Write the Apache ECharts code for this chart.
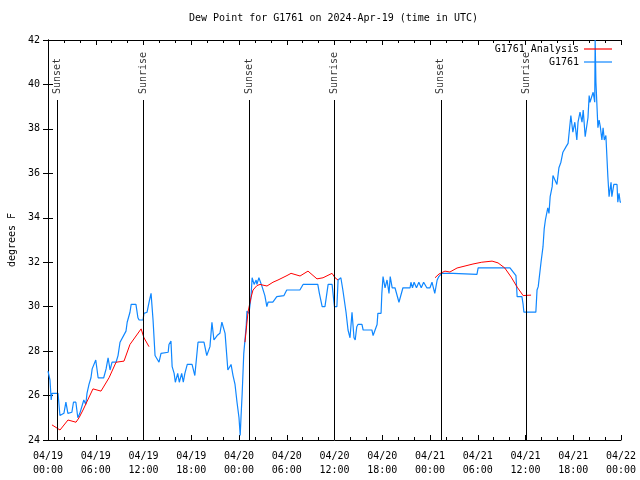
<!DOCTYPE html>
<html>
<head>
<meta charset="utf-8">
<script src="https://cdn.jsdelivr.net/npm/echarts@6/dist/echarts.min.js"></script>
<style>html,body{margin:0;padding:0;background:#fff}#c{width:640px;height:480px}</style>
</head>
<body>
<div id="c"></div>
<script>
// ---- data ----
const titleText = 'Dew Point for G1761 on 2024-Apr-19 (time in UTC)';
const xTickLabels = ['04/19\n00:00','04/19\n06:00','04/19\n12:00','04/19\n18:00','04/20\n00:00','04/20\n06:00','04/20\n12:00','04/20\n18:00','04/21\n00:00','04/21\n06:00','04/21\n12:00','04/21\n18:00','04/22\n00:00'];
// hours since 04/19 00:00 UTC
const blueHours = [0,0.25,0.4,0.5,1.26,1.5,2.0,2.25,2.5,3.0,3.2,3.5,3.75,4.0,4.5,4.75,4.9,5.15,5.4,5.55,6.0,6.3,7.0,7.3,7.55,7.8,8.05,8.55,8.8,9.05,9.3,9.8,9.95,10.3,10.45,11.05,11.3,11.45,11.95,12.05,12.45,12.7,12.95,13.2,13.45,13.7,13.95,14.2,14.45,15.1,15.2,15.45,15.6,15.85,16.0,16.3,16.5,16.8,17.0,17.2,17.5,18.1,18.45,18.85,19.6,19.95,20.35,20.6,20.85,21.25,21.6,21.85,22.25,22.6,23.0,23.25,23.5,23.75,24.0,24.15,24.25,24.4,24.6,24.9,25.0,25.25,25.5,25.65,25.9,26.15,26.25,26.5,26.9,27.25,27.5,27.65,28.25,28.75,29.0,29.65,30.0,31.65,32.05,33.9,34.1,34.45,34.8,35.2,35.7,35.9,36.0,36.3,36.45,36.8,37.05,37.45,37.7,37.8,37.95,38.2,38.45,38.6,38.8,38.95,39.45,39.6,40.7,40.85,41.1,41.35,41.45,41.85,41.95,42.1,42.35,42.6,42.85,43.0,43.25,43.6,43.75,44.1,44.6,45.5,45.6,45.8,46.0,46.3,46.6,46.9,47.2,47.6,48.0,48.25,48.4,48.6,48.9,49.1,49.5,50.9,51.15,53.9,54.05,58.05,58.3,58.8,58.95,59.55,59.7,59.8,61.3,61.45,61.6,61.95,62.2,62.35,62.5,62.8,62.95,63.1,63.35,63.45,63.7,63.95,64.2,64.45,64.7,65.1,65.35,65.55,65.7,65.95,66.2,66.45,66.6,66.85,67.1,67.25,67.5,67.85,68.0,68.1,68.5,68.7,68.75,68.85,69.1,69.25,69.4,69.6,69.75,69.9,70.1,70.35,70.5,70.75,70.85,71.1,71.5,71.6,71.75,71.9,72.0];
const blueDew = [27.1,26.7,25.8,26.1,26.1,25.1,25.2,25.7,25.2,25.25,25.7,25.7,25.0,25.2,25.8,25.6,26.1,26.5,26.8,27.2,27.6,26.8,26.8,27.2,27.7,27.15,27.5,27.5,27.8,28.4,28.4,28.9,29.3,29.75,30.1,30.1,29.5,29.4,29.4,29.7,29.75,30.2,30.6,29.4,27.8,27.8,27.5,27.9,27.95,27.95,28.3,28.45,27.3,27.0,26.6,27.0,26.6,27.0,26.6,27.0,27.4,27.4,26.9,28.4,28.4,27.8,28.2,29.3,28.5,28.7,28.8,29.3,28.8,27.15,27.4,26.9,26.5,25.7,25.0,24.2,25.0,26.1,27.9,29.1,29.8,29.7,30.4,31.3,31.0,31.2,31.0,31.3,30.9,30.5,30.0,30.2,30.2,30.45,30.5,30.5,30.75,30.75,31.0,31.0,30.6,30.0,30.0,31.0,31.0,30.3,30.0,30.0,31.2,31.3,30.75,29.75,28.95,29.0,28.6,29.75,28.6,28.5,29.1,29.2,29.2,28.95,28.95,28.7,28.7,29.2,29.7,29.7,30.6,31.35,30.85,31.2,30.6,31.35,30.85,30.85,30.85,30.2,30.85,30.85,31.1,30.85,31.1,30.85,31.1,30.85,31.1,30.85,30.85,31.1,31.1,30.6,31.2,31.35,31.5,31.5,31.45,31.45,31.75,31.75,31.7,31.4,30.45,30.45,30.1,29.75,29.75,30.75,30.9,32.0,32.7,33.5,33.9,34.45,34.2,34.95,35.4,35.9,35.95,35.5,36.25,36.5,36.95,37.2,37.35,37.4,38.6,37.85,38.3,37.5,38.3,38.75,38.3,38.85,37.65,38.5,39.5,39.2,39.65,39.2,42.0,40.1,38.05,38.4,38.1,37.5,38.05,37.5,37.7,35.85,34.95,35.6,34.95,35.5,35.5,34.7,35.1,34.7,34.7];
// analysis series ('-' = gap)
const redHours = [0.5,1.51,2.51,3.52,3.65,3.9,4.4,5.65,6.66,7.67,8.55,9.55,10.3,11.7,12.06,12.69,18.5,24.75,25.13,25.5,25.76,26.26,26.64,27.52,28.27,28.9,30.03,30.54,31.67,32.67,33.8,34.56,35.69,36.07,36.44,42.0,48.63,49.13,49.88,50.5,51.4,52.4,53.4,54.5,55.8,56.55,57.4,58.2,58.95,59.7,60.7];
const redDew = [24.68,24.45,24.9,24.8,24.8,25.0,25.35,26.3,26.2,26.8,27.5,27.55,28.3,29.0,28.6,28.2,'-',28.4,29.75,30.4,30.75,30.95,31.0,30.93,31.1,31.2,31.4,31.5,31.38,31.6,31.25,31.3,31.5,31.3,31.2,'-',31.3,31.47,31.6,31.56,31.74,31.83,31.92,32.0,32.05,31.97,31.74,31.33,30.88,30.5,30.52];
const eventHours = [1.22,11.95,25.28,35.97,49.37,60.07];
const eventNames = ['Sunset','Sunrise','Sunset','Sunrise','Sunset','Sunrise'];

const FONT = 'DejaVu Sans Mono';
const FS = 10;
const BLUE = '#0f87ff';
const RED = '#ff0000';
const LINE_TOP = 39.3;

const chart = echarts.init(document.getElementById('c'), null, {renderer: 'canvas'});
const axisBase = {
  axisLine: {show: true, lineStyle: {color: '#000', width: 1}},
  splitLine: {show: false},
};
const option = {
  animation: false,
  backgroundColor: '#fff',
  textStyle: {fontFamily: FONT},
  title: {
    text: titleText, left: 189, top: 13, padding: 0,
    textStyle: {fontFamily: FONT, fontSize: FS, fontWeight: 'normal', color: '#000'}
  },
  legend: [
    {data: ['G1761 Analysis'], right: 28, top: 44, padding: 0, align: 'right', orient: 'vertical',
     icon: 'rect', itemWidth: 28, itemHeight: 1.2, itemGap: 0,
     textStyle: {fontFamily: FONT, fontSize: FS, color: '#000'}},
    {data: ['G1761'], right: 28, top: 57, padding: 0, align: 'right', orient: 'vertical',
     icon: 'rect', itemWidth: 28, itemHeight: 1.2, itemGap: 0,
     textStyle: {fontFamily: FONT, fontSize: FS, color: '#000'}}
  ],
  grid: {left: 48, right: 19, top: 40, bottom: 40, containLabel: false, outerBoundsMode: 'none'},
  xAxis: [
    Object.assign({}, axisBase, {
      type: 'value', min: 0, max: 72, interval: 6, position: 'bottom',
      axisTick: {show: true, inside: true, length: 5, lineStyle: {color: '#000'}},
      minorTick: {show: true, splitNumber: 3, length: 3, lineStyle: {color: '#000'}},
      axisLabel: {
        color: '#000', fontFamily: FONT, fontSize: FS, lineHeight: 14, margin: 9,
        formatter: v => xTickLabels[Math.round(v / 6)]
      }
    }),
    Object.assign({}, axisBase, {
      type: 'value', min: 0, max: 72, interval: 6, position: 'top',
      axisTick: {show: true, inside: true, length: 5, lineStyle: {color: '#000'}},
      minorTick: {show: true, splitNumber: 3, length: 3, lineStyle: {color: '#000'}},
      axisLabel: {show: false}
    })
  ],
  yAxis: [
    Object.assign({}, axisBase, {
      type: 'value', min: 24, max: 42, interval: 2, position: 'left',
      name: 'degrees F', nameLocation: 'middle', nameGap: 31,
      nameTextStyle: {color: '#000', fontFamily: FONT, fontSize: FS},
      axisTick: {show: true, inside: true, length: 5, lineStyle: {color: '#000'}},
      axisLabel: {color: '#000', fontFamily: FONT, fontSize: FS, margin: 8}
    }),
    Object.assign({}, axisBase, {
      type: 'value', min: 24, max: 42, interval: 2, position: 'right',
      axisTick: {show: true, inside: true, length: 5, lineStyle: {color: '#000'}},
      axisLabel: {show: false}
    })
  ],
  series: [
    {
      name: 'events', type: 'scatter', symbolSize: 0, silent: true, z: 1,
      data: eventHours.map((h, i) => ({value: [h, LINE_TOP], name: eventNames[i]})),
      label: {
        show: true, formatter: '{b}', position: [0, 0], offset: [6, 0], rotate: 90,
        align: 'left', verticalAlign: 'middle',
        color: '#000', fontFamily: FONT, fontSize: FS
      },
      markLine: {
        silent: true, symbol: ['none', 'none'], animation: false,
        label: {show: false},
        lineStyle: {color: '#000', width: 1, type: 'solid'},
        emphasis: {disabled: true},
        data: eventHours.map(h => [{coord: [h, 24]}, {coord: [h, LINE_TOP]}])
      }
    },
    {
      name: 'G1761 Analysis', type: 'line', showSymbol: false, connectNulls: false, z: 3,
      color: RED, lineStyle: {color: RED, width: 1},
      data: redHours.map((h, i) => [h, redDew[i]])
    },
    {
      name: 'G1761', type: 'line', showSymbol: false, z: 2,
      color: BLUE, lineStyle: {color: BLUE, width: 1.2},
      data: blueHours.map((h, i) => [h, blueDew[i]])
    }
  ]
};
chart.setOption(option);
</script>
</body>
</html>
